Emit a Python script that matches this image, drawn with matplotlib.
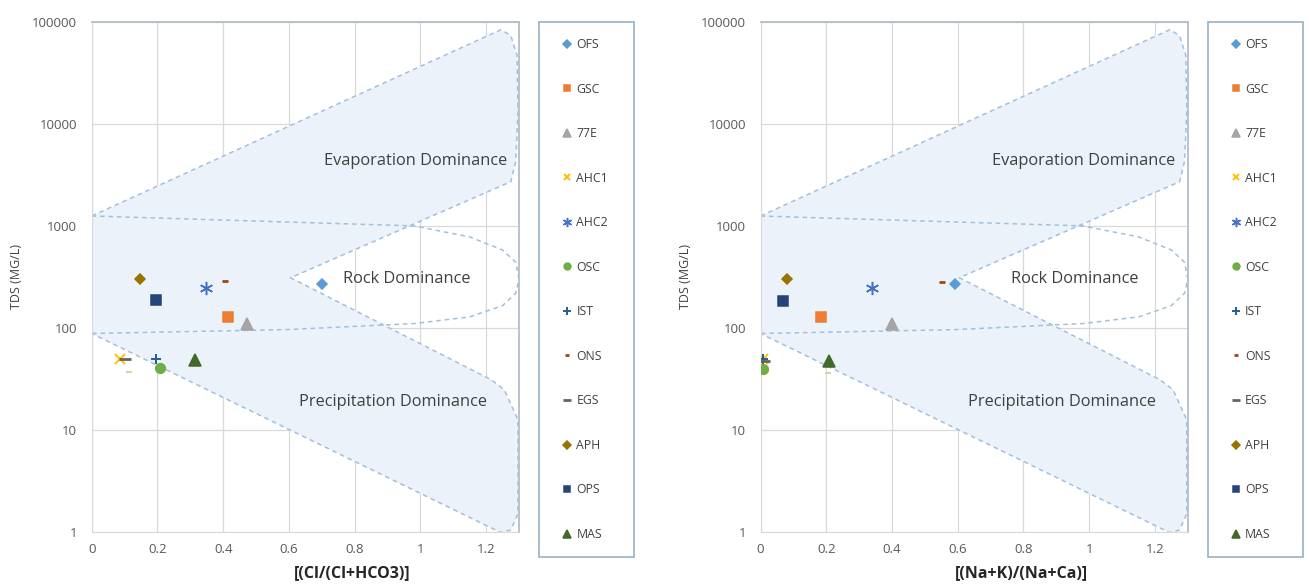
import numpy as np
import matplotlib.pyplot as plt
from matplotlib.patches import Rectangle
from matplotlib.ticker import NullLocator

plt.rcParams['font.family'] = ['Open Sans', 'DejaVu Sans']

W, H = 1309, 588

# sampling sites (legend order)
sites = ['OFS', 'GSC', '77E', 'AHC1', 'AHC2', 'OSC', 'IST', 'ONS', 'EGS', 'APH', 'OPS', 'MAS']
colors = ['#5B9BD5', '#ED7D31', '#A5A5A5', '#FFC000', '#4472C4', '#70AD47',
          '#255E91', '#9E480E', '#636363', '#997300', '#264478', '#43682B']
markers = ['D', 's', '^', 'x', (6, 2, 0), 'o', '+', '_', '_', 'D', 's', '^']
msizes = [5.5, 7, 8, 7, 9.5, 7, 7.5, 5, 8, 5.5, 7, 8]

# left panel: Cl/(Cl+HCO3) vs TDS
cl_ratio = [0.70, 0.414, 0.473, 0.085, 0.349, 0.207, 0.197, 0.405, 0.10, 0.147, 0.196, 0.313]
cl_tds = [267, 128, 109, 49, 247, 40, 49, 288, 50, 303, 186, 48]
cl_stray = ([0.115], [37])

# right panel: (Na+K)/(Na+Ca) vs TDS
na_ratio = [0.591, 0.183, 0.40, 0.008, 0.338, 0.008, 0.008, 0.551, 0.01, 0.081, 0.068, 0.207]
na_tds = [268, 128, 108, 50, 244, 39.5, 49, 283, 47, 303, 185, 47]
na_stray = ([0.205], [36])

# Gibbs envelope (evaporation / precipitation boomerang)
gibbs_x = [0, 1.245, 1.275, 1.294, 1.297, 1.29, 1.275, 0.605,
           1.215, 1.255, 1.297, 1.297, 1.275, 1.245, 0]
gibbs_y = [1250, 84000, 73600, 47000, 13100, 4270, 2710, 310,
           31, 24.7, 12.5, 1.5, 1.04, 0.98, 88]
# rock dominance outline
rock_x = [0, 0.5, 0.98, 1.15, 1.25, 1.29, 1.30, 1.29, 1.25, 1.15, 0.98, 0.59, 0]
rock_y = [1250, 1115, 1000, 780, 580, 440, 300, 218, 165, 128, 110, 96, 88]

yticks = [1, 10, 100, 1000, 10000, 100000]
xticks = [0, 0.2, 0.4, 0.6, 0.8, 1.0, 1.2]
xticklabels = ['0', '0.2', '0.4', '0.6', '0.8', '1', '1.2']

fill_col = '#EBF2FA'
edge_col = '#A3C0DA'
txt_col = '#404040'


def draw_panel(ax, xs, ys, stray, xlabel):
    ax.set_yscale('log')
    ax.fill(gibbs_x, gibbs_y, color=fill_col, lw=0, zorder=1)
    ax.plot(gibbs_x + gibbs_x[:1], gibbs_y + gibbs_y[:1], ls=(0, (3, 2.5)),
            color=edge_col, lw=1.1, zorder=2)
    ax.plot(rock_x, rock_y, ls=(0, (3, 2.5)), color=edge_col, lw=1.1, zorder=2)

    handles = []
    for i, s in enumerate(sites):
        if markers[i] == '_':
            mew = 2
        elif markers[i] in ('x', '+'):
            mew = 1.4
        else:
            mew = 1.1
        h, = ax.plot([xs[i]], [ys[i]], ls='none', marker=markers[i], ms=msizes[i],
                     color=colors[i], mew=mew, label=s, zorder=4)
        handles.append(h)
    ax.plot(stray[0], stray[1], ls='none', marker='_', ms=5, mew=1.5,
            color='#E3CFA3', zorder=3)

    ax.text(1.263, 4300, 'Evaporation Dominance', ha='right', va='center',
            fontsize=11.8, color=txt_col, zorder=5)
    ax.text(0.957, 300, 'Rock Dominance', ha='center', va='center',
            fontsize=11.8, color=txt_col, zorder=5)
    ax.text(1.202, 18.9, 'Precipitation Dominance', ha='right', va='center',
            fontsize=11.8, color=txt_col, zorder=5)

    ax.set_xlim(0, 1.3)
    ax.set_ylim(1, 100000)
    ax.set_xticks(xticks)
    ax.set_xticklabels(xticklabels)
    ax.set_yticks(yticks)
    ax.set_yticklabels([str(v) for v in yticks])
    ax.yaxis.set_minor_locator(NullLocator())
    ax.tick_params(length=0, labelsize=9.5, labelcolor='#595959')
    ax.tick_params(axis='y', pad=10.5)
    ax.tick_params(axis='x', pad=8)
    ax.grid(True, color='#D9D9D9', lw=0.9, zorder=0)
    ax.set_axisbelow(True)
    for side in ['left', 'bottom']:
        ax.spines[side].set_color('#D9D9D9')
    for side in ['top', 'right']:
        ax.spines[side].set_color('#B4BEC8')
        ax.spines[side].set_linewidth(1.3)

    ax.set_ylabel('TDS (MG/L)', fontsize=9, color=txt_col)
    ax.yaxis.set_label_coords(-0.16, 0.5)
    ax.set_xlabel(xlabel, fontsize=11.5, fontweight='bold', color='#262626')
    ax.xaxis.set_label_coords(0.61, -0.065)
    return handles


fig = plt.figure(figsize=(W / 100, H / 100), dpi=100)

panels = [
    (91.7, cl_ratio, cl_tds, cl_stray, '[(Cl/(Cl+HCO3)]'),
    (760.5, na_ratio, na_tds, na_stray, '[(Na+K)/(Na+Ca)]'),
]
for left_px, xs, ys, stray, xlabel in panels:
    ax = fig.add_axes([left_px / W, (H - 531.7) / H, 427.3 / W, 509.7 / H])
    handles = draw_panel(ax, xs, ys, stray, xlabel)

    box_left = left_px + 447.5
    fig.add_artist(Rectangle((box_left / W, (H - 557) / H), 95 / W, 535 / H,
                             transform=fig.transFigure, fill=False,
                             ec='#9FB6C8', lw=1.3))
    ax.legend(handles=handles, loc='upper left',
              bbox_to_anchor=((box_left + 23) / W, (H - 38) / H),
              bbox_transform=fig.transFigure, frameon=False, fontsize=8.8,
              labelspacing=2.58, handlelength=0.8, handletextpad=0.35,
              borderpad=0, borderaxespad=0, markerscale=0.7, labelcolor=txt_col)

fig.savefig('out.png', dpi=100)
